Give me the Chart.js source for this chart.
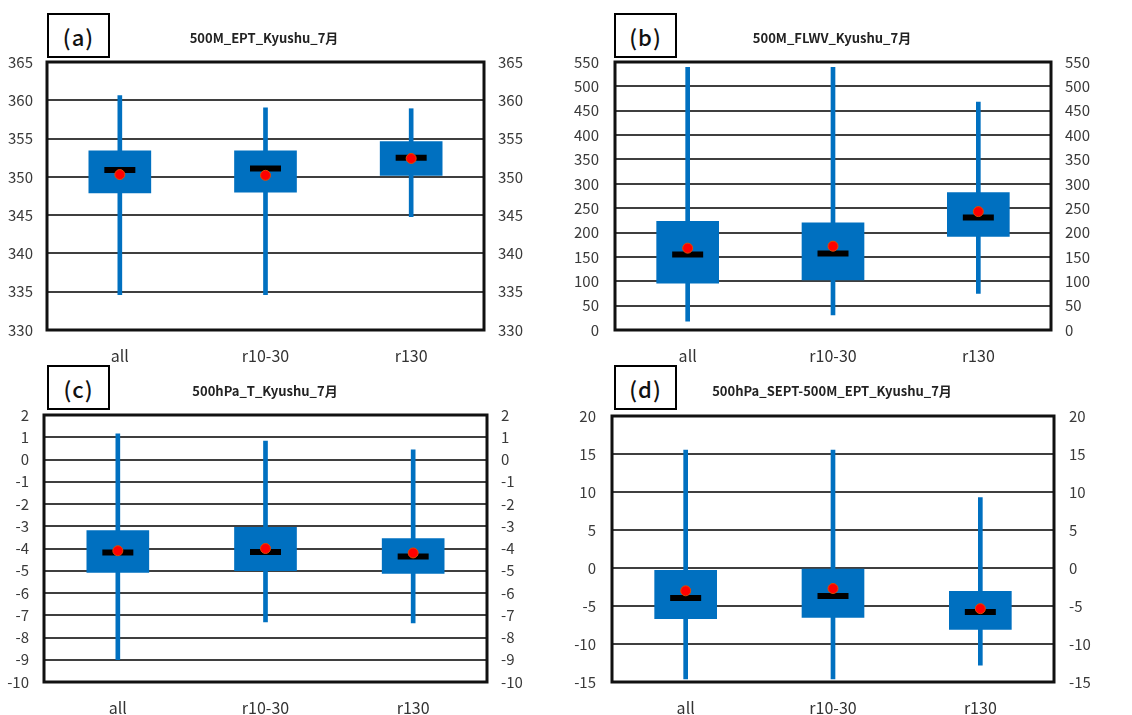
<!DOCTYPE html>
<html lang="ja">
<head>
<meta charset="utf-8">
<title>Kyushu 7月 box plots</title>
<script src="https://cdn.jsdelivr.net/npm/chart.js@4.4.1/dist/chart.umd.min.js"></script>
<style>
  body { margin: 0; background: #fff; }
  #page { position: relative; width: 1132px; height: 715px; overflow: hidden; }
  .panel { position: absolute; width: 566px; }
  .panel canvas { position: absolute; left: 0; top: 0; }
  .tag {
    position: absolute; width: 59px; height: 41px; border: 2px solid #000;
    font: 500 22px "Noto Sans CJK JP", sans-serif; color: #111;
    display: flex; align-items: center; justify-content: center; letter-spacing: 1px;
    background: #fff;
  }
  .ttl {
    position: absolute; width: 300px; text-align: center;
    font: bold 13px "Noto Sans CJK JP", sans-serif; color: #222; white-space: nowrap;
  }
</style>
</head>
<body>
<div id="page">
  <div class="panel" style="left:0;top:0;height:375px">
    <canvas id="chartA" width="566" height="375"></canvas>
    <div class="tag" style="left:47px;top:13px">(a)</div>
    <div class="ttl" style="left:114px;top:28px">500M_EPT_Kyushu_7月</div>
  </div>
  <div class="panel" style="left:566px;top:0;height:375px">
    <canvas id="chartB" width="566" height="375"></canvas>
    <div class="tag" style="left:48px;top:13px">(b)</div>
    <div class="ttl" style="left:116px;top:28px">500M_FLWV_Kyushu_7月</div>
  </div>
  <div class="panel" style="left:0;top:358px;height:357px">
    <canvas id="chartC" width="566" height="357"></canvas>
    <div class="tag" style="left:47px;top:7px">(c)</div>
    <div class="ttl" style="left:115px;top:23px">500hPa_T_Kyushu_7月</div>
  </div>
  <div class="panel" style="left:566px;top:358px;height:357px">
    <canvas id="chartD" width="566" height="357"></canvas>
    <div class="tag" style="left:48px;top:7px">(d)</div>
    <div class="ttl" style="left:116px;top:23px">500hPa_SEPT-500M_EPT_Kyushu_7月</div>
  </div>
</div>

<script>
'use strict';

// categorias comuns aos quatro paineis
const categories = ['all', 'r10-30', 'r130'];

// (a) 500M_EPT
const eptMin    = [334.6, 334.6, 344.8];
const eptQ1     = [347.9, 348.0, 350.2];
const eptMedian = [350.9, 351.1, 352.5];
const eptQ3     = [353.4, 353.4, 354.6];
const eptMax    = [360.6, 359.0, 358.9];
const eptMean   = [350.3, 350.2, 352.4];

// (b) 500M_FLWV
const flwvMin    = [18, 31, 75];
const flwvQ1     = [96, 103, 192];
const flwvMedian = [155, 157, 231];
const flwvQ3     = [223, 220, 282];
const flwvMax    = [539, 539, 468];
const flwvMean   = [168, 172, 243];

// (c) 500hPa_T
const tMin    = [-9.0, -7.3, -7.35];
const tQ1     = [-5.08, -5.0, -5.12];
const tMedian = [-4.18, -4.16, -4.36];
const tQ3     = [-3.2, -3.05, -3.55];
const tMax    = [1.15, 0.83, 0.43];
const tMean   = [-4.1, -4.0, -4.2];

// (d) 500hPa_SEPT - 500M_EPT
const diffMin    = [-14.6, -14.6, -12.8];
const diffQ1     = [-6.67, -6.5, -8.07];
const diffMedian = [-3.95, -3.7, -5.8];
const diffQ3     = [-0.3, 0.0, -3.07];
const diffMax    = [15.5, 15.5, 9.25];
const diffMean   = [-3.0, -2.7, -5.35];

// eixos y (min, max, passo)
const eptTicks  = [330, 365, 5];
const flwvTicks = [0, 550, 50];
const tTicks    = [-10, 2, 1];
const diffTicks = [-15, 20, 5];

const BLUE = '#0070c0';
const TICK_FONT = { family: '"Noto Sans CJK JP", sans-serif', size: 15 };

// moldura preta em volta da area do grafico
const framePlugin = {
  id: 'frame',
  afterDraw(chart) {
    const { ctx, chartArea: a } = chart;
    ctx.save();
    ctx.strokeStyle = '#111';
    ctx.lineWidth = 3;
    ctx.strokeRect(a.left, a.top, a.right - a.left, a.bottom - a.top);
    ctx.restore();
  }
};

function renderBoxChart(id, s, ticks, box) {
  const ctx = document.getElementById(id);
  if (!ctx) return;
  const canvasH = ctx.height;
  const pairs = (lo, hi) => categories.map((_, i) => [lo[i], hi[i]]);

  const yScale = (position, padding, width) => ({
    position,
    min: ticks[0],
    max: ticks[1],
    grid: position === 'left'
      ? { color: '#3f3f3f', lineWidth: 2, drawTicks: false }
      : { display: false, drawTicks: false },
    border: { display: false },
    ticks: { stepSize: ticks[2], padding, color: '#3a3a3a', font: TICK_FONT },
    afterFit(scale) { scale.width = width; }
  });

  return new Chart(ctx, {
    type: 'bar',
    data: {
      labels: categories,
      datasets: [
        {
          type: 'line', label: 'mean', data: s.mean, showLine: false, order: 0,
          pointStyle: 'circle', pointRadius: 5, pointBackgroundColor: '#ff0000',
          pointBorderColor: '#e04a00', pointBorderWidth: 1
        },
        {
          type: 'line', label: 'median', data: s.median, showLine: false, order: 1,
          pointStyle: 'line', pointRadius: 15.5, pointBorderColor: '#000', pointBorderWidth: 6
        },
        {
          label: 'box', data: pairs(s.q1, s.q3), order: 2, grouped: false,
          backgroundColor: BLUE, borderWidth: 0, barThickness: 62
        },
        {
          label: 'whisker', data: pairs(s.min, s.max), order: 3, grouped: false,
          backgroundColor: BLUE, borderWidth: 0, barThickness: 4
        }
      ]
    },
    options: {
      responsive: false,
      animation: false,
      events: [],
      layout: { padding: { top: box.top, left: 0, right: 0, bottom: 0 } },
      plugins: { legend: { display: false }, tooltip: { enabled: false } },
      scales: {
        x: {
          grid: { display: false, drawTicks: false },
          border: { display: false },
          ticks: { padding: 16, color: '#333', font: { family: TICK_FONT.family, size: 16 } },
          afterFit(scale) { scale.height = canvasH - box.bottom; }
        },
        y: yScale('left', box.padL, box.left),
        y2: yScale('right', box.padR, 566 - box.right)
      }
    },
    plugins: [framePlugin]
  });
}

renderBoxChart('chartA',
  { min: eptMin, q1: eptQ1, median: eptMedian, q3: eptQ3, max: eptMax, mean: eptMean },
  eptTicks, { left: 47, right: 484, top: 62, bottom: 330, padL: 14, padR: 14 });

renderBoxChart('chartB',
  { min: flwvMin, q1: flwvQ1, median: flwvMedian, q3: flwvQ3, max: flwvMax, mean: flwvMean },
  flwvTicks, { left: 49, right: 485, top: 62, bottom: 330, padL: 16, padR: 14 });

renderBoxChart('chartC',
  { min: tMin, q1: tQ1, median: tMedian, q3: tQ3, max: tMax, mean: tMean },
  tTicks, { left: 44, right: 487, top: 57, bottom: 324, padL: 15, padR: 14 });

renderBoxChart('chartD',
  { min: diffMin, q1: diffQ1, median: diffMedian, q3: diffQ3, max: diffMax, mean: diffMean },
  diffTicks, { left: 46, right: 488, top: 58, bottom: 324, padL: 16, padR: 15 });
</script>
</body>
</html>
